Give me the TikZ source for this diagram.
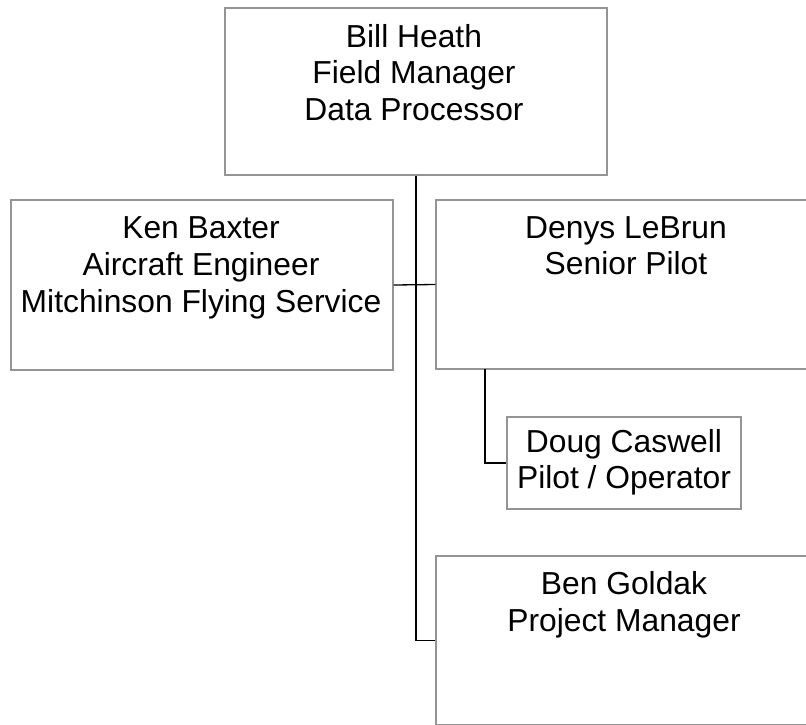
\documentclass[tikz,border=0pt]{standalone}
\usepackage{fontspec}
\setmainfont{Liberation Sans}
\begin{document}
\begin{tikzpicture}[x=1pt,y=-1pt,
  box/.style={draw=black!42, line width=1.2pt, rectangle, inner sep=0pt, fill=white},
  txt/.style={inner sep=0pt, align=center, font=\fontsize{31.8}{36.6}\selectfont, anchor=base},
  link/.style={draw=black, line width=1.3pt}]
\useasboundingbox (0,0) rectangle (806,724);
\clip (0,0) rectangle (806,724);
\fill[white] (0,0) rectangle (806,724);
\node[box, minimum width=382pt, minimum height=167pt] (bill) at (416,91.5) {};
\node[box, minimum width=382pt, minimum height=170pt] (ken) at (202,285) {};
\node[box, minimum width=381pt, minimum height=169pt] (denys) at (626.5,284.5) {};
\node[box, minimum width=234pt, minimum height=92pt] (doug) at (624,463) {};
\node[box, minimum width=381pt, minimum height=169pt] (ben) at (626.5,640.5) {};
\coordinate (dj) at (485,369);
\draw[link] (bill.south) |- (ben.west);
\draw[link] (ken.east) -- (denys.west);
\draw[link] (dj) |- (doug.west);
\node[txt] (t1) at (414,120.2) {Bill Heath\\Field Manager\\Data Processor};
\node[txt] (t2) at (201,312) {Ken Baxter\\Aircraft Engineer\\Mitchinson Flying Service};
\node[txt] (t3) at (626,274.6) {Denys LeBrun\\Senior Pilot};
\node[txt] (t4) at (624,488.6) {Doug Caswell\\Pilot / Operator};
\node[txt] (t5) at (624,631) {Ben Goldak\\Project Manager};
\end{tikzpicture}
\end{document}
